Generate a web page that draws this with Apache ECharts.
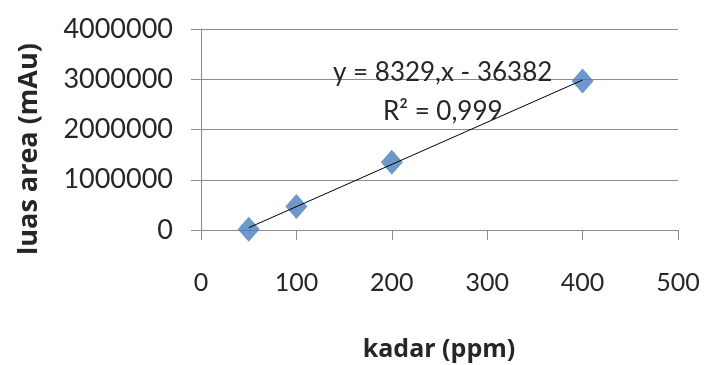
<!DOCTYPE html>
<html>
<head>
<meta charset="utf-8">
<script src="https://cdn.jsdelivr.net/npm/echarts@6/dist/echarts.min.js"></script>
<style>html,body{margin:0;padding:0;background:#fff}#c{width:704px;height:365px}</style>
</head>
<body>
<div id="c"></div>
<script>
const kadar = [50, 100, 200, 400];
const luasArea = [15000, 470000, 1350000, 2965000];
const xTicks = [0, 100, 200, 300, 400, 500];
const yTicks = [0, 1000000, 2000000, 3000000, 4000000];
const xTitle = 'kadar (ppm)';
const yTitle = 'luas area (mAu)';
const eqText = 'y = 8329,x - 36382';
const r2Text = 'R\u00B2 = 0,999';

// least-squares trendline from the data
const n = kadar.length;
const mx = kadar.reduce((a, b) => a + b, 0) / n;
const my = luasArea.reduce((a, b) => a + b, 0) / n;
let sxy = 0, sxx = 0;
for (let i = 0; i < n; i++) { sxy += (kadar[i] - mx) * (luasArea[i] - my); sxx += (kadar[i] - mx) ** 2; }
const slope = sxy / sxx, icpt = my - slope * mx;
const xMinD = Math.min(...kadar), xMaxD = Math.max(...kadar);
const trend = [[xMinD, slope * xMinD + icpt], [xMaxD, slope * xMaxD + icpt]];

const chart = echarts.init(document.getElementById('c'), null, { renderer: 'canvas' });
const txt = '#262626';
const gridCol = '#8c8c8c';
chart.setOption({
  animation: false,
  backgroundColor: '#fff',
  grid: { left: 201, right: 26, top: 29, bottom: 135, containLabel: false, outerBoundsMode: 'none' },
  xAxis: {
    type: 'value', min: xTicks[0], max: xTicks[xTicks.length - 1], interval: 100,
    axisLine: { show: true, onZero: false, lineStyle: { color: gridCol, width: 1 } },
    axisTick: { show: true, length: 10, inside: false, lineStyle: { color: gridCol } },
    axisLabel: { fontFamily: 'Lato', fontSize: 25, color: txt, margin: 40, formatter: v => String(v) },
    splitLine: { show: false }
  },
  yAxis: {
    type: 'value', min: yTicks[0], max: yTicks[yTicks.length - 1], interval: 1000000,
    axisLine: { show: true, lineStyle: { color: gridCol, width: 1 } },
    axisTick: { show: true, length: 10, lineStyle: { color: gridCol } },
    axisLabel: { fontFamily: 'Lato', fontSize: 27, color: txt, margin: 28, formatter: v => String(v) },
    splitLine: { show: true, lineStyle: { color: gridCol, width: 1 } }
  },
  series: [
    {
      type: 'line', data: trend, symbol: 'none', silent: true,
      lineStyle: { color: '#000', width: 1 }, z: 3
    },
    {
      type: 'scatter', data: kadar.map((x, i) => [x, luasArea[i]]),
      symbol: 'diamond', symbolSize: [22, 25],
      itemStyle: { color: '#4a7ebb' }, z: 2
    }
  ],
  graphic: [
    { type: 'text', x: 29, y: 149, rotation: Math.PI / 2, z: 10,
      style: { text: yTitle, fontFamily: 'Open Sans', fontWeight: 'bold', fontSize: 27, fill: txt, align: 'center', verticalAlign: 'middle' } },
    { type: 'text', x: 439, y: 350, z: 10,
      style: { text: xTitle, fontFamily: 'Open Sans', fontWeight: 'bold', fontSize: 25, fill: txt, align: 'center', verticalAlign: 'middle' } },
    { type: 'text', left: 333, top: 60, z: 10, style: { text: eqText, fontFamily: 'Lato', fontSize: 26, fill: txt } },
    { type: 'text', left: 383, top: 99, z: 10, style: { text: r2Text, fontFamily: 'Lato', fontSize: 26, fill: txt } }
  ]
});
</script>
</body>
</html>
